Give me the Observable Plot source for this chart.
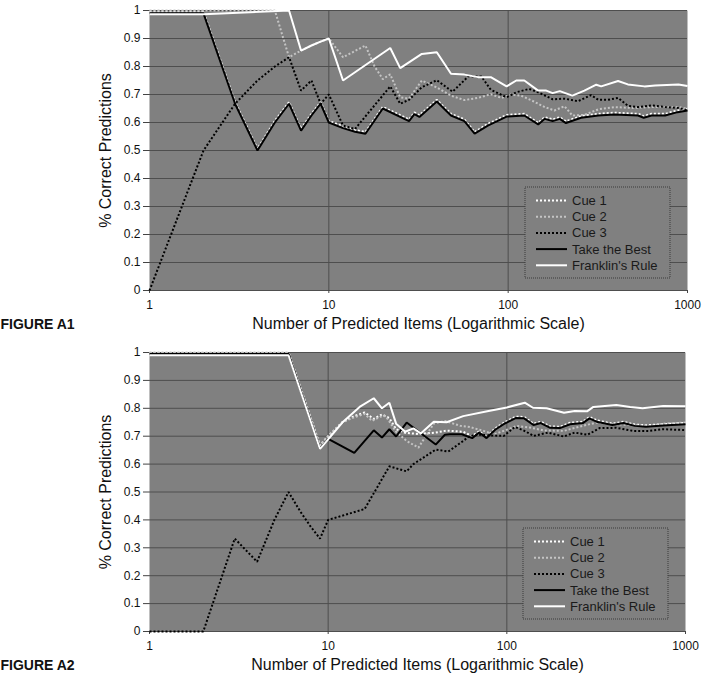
<!DOCTYPE html>
<html>
<head>
<meta charset="utf-8">
<script src="https://cdn.jsdelivr.net/npm/d3@7"></script>
<script src="https://cdn.jsdelivr.net/npm/@observablehq/plot@0.6"></script>
<style>
  body { margin: 0; background: #fff; font-family: "Liberation Sans", Arial, sans-serif; }
  #chart svg { display: block; }
</style>
</head>
<body>
<div id="chart"></div>
<script>
// ---------- labels / ticks ----------
const seriesNames = ["Cue 1", "Cue 2", "Cue 3", "Take the Best", "Franklin's Rule"];
const xTicks = [1, 10, 100, 1000];
const yTicks = [0, 0.1, 0.2, 0.3, 0.4, 0.5, 0.6, 0.7, 0.8, 0.9, 1];
const xTitle = "Number of Predicted Items (Logarithmic Scale)";
const yTitle = "% Correct Predictions";
const figureLabels = ["FIGURE A1", "FIGURE A2"];

// ---------- FIGURE A1 data: [items, proportion correct] ----------
const a1Cue1 = [[1,0.996],[2,0.996],[3,0.673],[4,0.506],[5,0.606],[6,0.673],[7,0.577],[8,0.631],[9,0.673],[10,0.606],[12,0.586],[14,0.573],[16,0.566],[20,0.656],[28,0.611],[30,0.636],[32,0.626],[40,0.681],[48,0.631],[57,0.611],[65,0.566],[77,0.595],[98,0.627],[123,0.631],[147,0.599],[160,0.619],[177,0.611],[194,0.619],[210,0.604],[255,0.623],[318,0.631],[390,0.635],[530,0.631],[570,0.623],[630,0.631],[750,0.631],[880,0.643],[1000,0.649]];
const a1Cue2 = [[1,1],[2,1],[3,1],[4,1],[5,1],[6,0.833],[7,0.857],[8,0.875],[9,0.889],[10,0.9],[12,0.833],[16,0.875],[18,0.8],[20,0.755],[22,0.772],[25,0.69],[28,0.685],[33,0.75],[40,0.725],[48,0.696],[57,0.68],[68,0.688],[80,0.701],[92,0.688],[104,0.7],[118,0.696],[134,0.68],[160,0.655],[181,0.643],[206,0.658],[228,0.625],[266,0.627],[318,0.647],[390,0.655],[490,0.652],[630,0.655],[890,0.655],[1000,0.649]];
const a1Cue3 = [[1,0],[2,0.5],[3,0.667],[4,0.75],[5,0.8],[6,0.833],[7,0.714],[8,0.75],[9,0.667],[10,0.7],[12,0.589],[14,0.577],[22,0.729],[25,0.667],[28,0.681],[33,0.726],[40,0.751],[49,0.71],[60,0.765],[71,0.764],[80,0.717],[98,0.69],[111,0.708],[131,0.72],[147,0.708],[177,0.683],[207,0.685],[245,0.676],[290,0.698],[318,0.681],[360,0.681],[410,0.688],[465,0.66],[530,0.655],[630,0.661],[750,0.655],[890,0.652],[1000,0.644]];
const a1TakeBest = [[1,0.99],[2,0.99],[3,0.667],[4,0.5],[5,0.6],[6,0.667],[7,0.571],[8,0.625],[9,0.667],[10,0.6],[12,0.58],[14,0.567],[16,0.56],[20,0.65],[28,0.605],[30,0.63],[32,0.62],[40,0.675],[48,0.625],[57,0.605],[65,0.56],[77,0.589],[98,0.621],[123,0.625],[147,0.593],[160,0.613],[177,0.605],[194,0.613],[210,0.598],[255,0.617],[318,0.625],[390,0.629],[530,0.625],[570,0.617],[630,0.625],[750,0.625],[880,0.637],[1000,0.643]];
const a1Franklin = [[1,0.987],[2,0.987],[6,1],[7,0.857],[8,0.875],[9,0.889],[10,0.9],[12,0.75],[22,0.866],[25,0.794],[33,0.845],[40,0.851],[48,0.774],[57,0.771],[68,0.762],[80,0.762],[98,0.729],[111,0.75],[123,0.75],[147,0.714],[163,0.714],[177,0.705],[194,0.712],[228,0.696],[266,0.714],[310,0.735],[330,0.729],[410,0.748],[465,0.736],[575,0.729],[660,0.732],[890,0.736],[1000,0.73]];

// ---------- FIGURE A2 data ----------
const a2Cue1 = [[1,1],[2,1],[3,1],[4,1],[5,1],[6,1],[9,0.667],[10,0.7],[12,0.75],[14,0.772],[16,0.785],[18,0.762],[20,0.778],[22,0.765],[24,0.725],[27,0.712],[32,0.708],[40,0.713],[46,0.72],[57,0.716],[64,0.7],[70,0.718],[77,0.698],[86,0.728],[96,0.748],[112,0.77],[125,0.769],[141,0.745],[155,0.752],[175,0.735],[198,0.734],[226,0.748],[266,0.752],[290,0.769],[318,0.757],[390,0.745],[450,0.752],[520,0.742],[600,0.739],[750,0.743],[1000,0.748]];
const a2Cue2 = [[1,1],[2,1],[3,1],[4,1],[5,1],[6,1],[9,0.667],[10,0.7],[12,0.75],[14,0.768],[16,0.78],[17.6,0.755],[19.6,0.77],[21,0.772],[24,0.716],[27.5,0.683],[32,0.659],[39,0.745],[45,0.755],[55,0.737],[62,0.733],[74,0.719],[85,0.707],[96,0.719],[114,0.737],[135,0.731],[160,0.721],[208,0.719],[266,0.737],[318,0.749],[390,0.743],[630,0.737],[750,0.745],[1000,0.749]];
const a2Cue3 = [[1,0],[2,0],[3,0.333],[4,0.25],[5,0.4],[6,0.5],[7,0.429],[8,0.375],[9,0.333],[10,0.4],[16,0.439],[22,0.592],[27.5,0.574],[30,0.6],[40,0.652],[47,0.645],[57,0.683],[62,0.701],[71,0.705],[80,0.703],[96,0.701],[111,0.733],[124,0.721],[141,0.701],[170,0.713],[208,0.699],[240,0.713],[283,0.705],[330,0.729],[410,0.73],[510,0.719],[630,0.719],[750,0.725],[1000,0.722]];
const a2TakeBest = [[1,0.995],[2,0.995],[3,0.995],[4,0.995],[5,0.995],[6,0.995],[9,0.654],[10,0.69],[14,0.64],[18,0.721],[20,0.695],[22,0.725],[24,0.699],[27.5,0.749],[40,0.67],[45,0.705],[48,0.707],[56,0.707],[64,0.693],[70,0.713],[77,0.693],[86,0.723],[96,0.743],[112,0.765],[125,0.764],[141,0.74],[155,0.747],[175,0.73],[198,0.729],[226,0.743],[266,0.747],[290,0.764],[318,0.752],[390,0.74],[450,0.747],[520,0.737],[600,0.734],[750,0.738],[1000,0.743]];
const a2Franklin = [[1,0.99],[2,0.99],[3,0.99],[4,0.99],[5,0.99],[6,0.99],[9,0.654],[10,0.689],[12,0.749],[15,0.805],[18,0.836],[20,0.8],[22,0.82],[24,0.745],[27,0.716],[30,0.728],[33,0.71],[39,0.752],[46,0.75],[57,0.772],[79,0.79],[100,0.803],[126,0.82],[140,0.802],[167,0.8],[209,0.784],[240,0.79],[281,0.789],[305,0.805],[410,0.812],[490,0.805],[575,0.8],[750,0.808],[1000,0.807]];

// ---------- styles ----------
const seriesStyle = {
  "Cue 1":           {stroke: "#ffffff", dash: "2,2"},
  "Cue 2":           {stroke: "#c4c4c4", dash: "2,2"},
  "Cue 3":           {stroke: "#000000", dash: "2,2"},
  "Take the Best":   {stroke: "#000000", dash: null},
  "Franklin's Rule": {stroke: "#ffffff", dash: null}
};
const FONT = "'Liberation Sans', Arial, Helvetica, sans-serif";

function makePanel({data, label, height, marginTop, marginBottom, marginRight}) {
  const marginLeft = 149;
  const lines = seriesNames.map((name, i) => Plot.line(data[i], {
    x: d => d[0], y: d => d[1],
    stroke: seriesStyle[name].stroke,
    strokeWidth: 2,
    strokeDasharray: seriesStyle[name].dash || undefined,
    strokeLinecap: "butt",
    strokeLinejoin: "miter"
  }));
  const svg = Plot.plot({
    width: 704, height, marginTop, marginBottom, marginLeft, marginRight,
    style: {fontFamily: FONT, fontSize: "12px", color: "#111", background: "#fff", overflow: "visible"},
    x: {type: "log", domain: [1, 1000]},
    y: {domain: [0, 1]},
    marks: [
      Plot.frame({fill: "#808080", stroke: null}),
      Plot.gridY(yTicks, {stroke: "#4e4e4e", strokeOpacity: 1, strokeWidth: 1}),
      Plot.gridX([10, 100], {stroke: "#4e4e4e", strokeOpacity: 1, strokeWidth: 1}),
      Plot.axisY(yTicks, {tickSize: 6, tickPadding: 3, tickFormat: d => String(d), label: null, stroke: "#444", fontSize: 12}),
      Plot.axisX(xTicks, {tickSize: 3, tickPadding: 7, tickFormat: d => String(d), label: null, stroke: "#444", fontSize: 12}),
      ...lines,
      Plot.text([xTitle], {text: d => d, frameAnchor: "bottom", dy: 38, fontSize: 16, fill: "#111"}),
      Plot.text([yTitle], {text: d => d, frameAnchor: "left", dx: -44, rotate: -90, textAnchor: "middle", fontSize: 16, fill: "#111"}),
      Plot.text([label], {text: d => d, frameAnchor: "bottom-left", dx: -149, dy: 38, textAnchor: "start", fontSize: 14, fontWeight: "bold", fill: "#111"})
    ]
  });

  // legend inside the plot area (bottom-right)
  const right = 704 - marginRight, bottom = height - marginBottom;
  const boxW = 145, boxH = 91;
  const bx = right - 17 - boxW, by = bottom - 12 - boxH;
  const g = d3.select(svg).append("g")
    .attr("font-family", FONT).attr("font-size", 13).attr("text-anchor", "start");
  g.append("rect").attr("x", bx).attr("y", by).attr("width", boxW).attr("height", boxH)
    .attr("fill", "#808080").attr("stroke", "#3a3a3a").attr("stroke-width", 1).attr("stroke-dasharray", "1,1");
  seriesNames.forEach((name, i) => {
    const cy = by + 13.5 + i * 16.2;
    const ln = g.append("line").attr("x1", bx + 11).attr("x2", bx + 42).attr("y1", cy).attr("y2", cy)
      .attr("stroke", seriesStyle[name].stroke).attr("stroke-width", 2);
    if (seriesStyle[name].dash) ln.attr("stroke-dasharray", seriesStyle[name].dash);
    g.append("text").attr("x", bx + 47).attr("y", cy).attr("dy", "0.35em")
      .attr("text-anchor", "start").attr("fill", "#1a1a1a").text(name);
  });
  return svg;
}

const chart = document.getElementById("chart");
chart.appendChild(makePanel({
  data: [a1Cue1, a1Cue2, a1Cue3, a1TakeBest, a1Franklin],
  label: figureLabels[0], height: 340, marginTop: 10, marginBottom: 50, marginRight: 17
}));
chart.appendChild(makePanel({
  data: [a2Cue1, a2Cue2, a2Cue3, a2TakeBest, a2Franklin],
  label: figureLabels[1], height: 339, marginTop: 12, marginBottom: 48, marginRight: 19
}));
</script>
</body>
</html>
